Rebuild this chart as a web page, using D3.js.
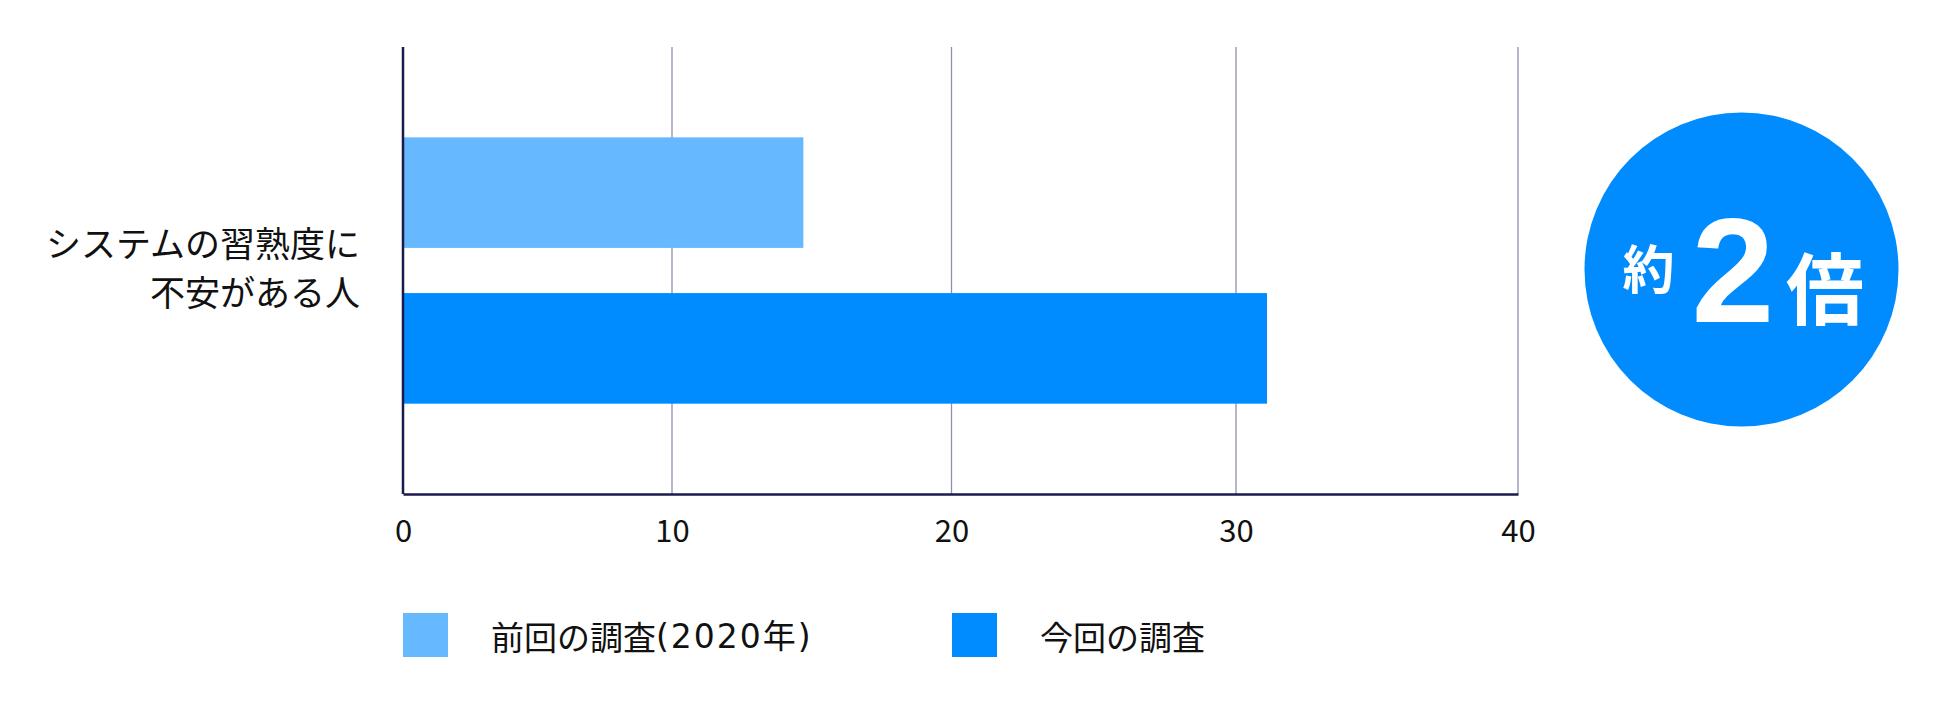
<!DOCTYPE html>
<html>
<head>
<meta charset="utf-8">
<script src="https://cdn.jsdelivr.net/npm/d3@7"></script>
<style>
  body { margin: 0; background: #fff; }
  text { font-family: "Noto Sans CJK JP", "Noto Sans", sans-serif; }
</style>
</head>
<body>
<div id="chart"></div>
<script>
var categoryLines = ["システムの習熟度に", "不安がある人"];
var seriesNames = ["前回の調査(2020年)", "今回の調査"];
var seriesKeys = ["prev", "now"];
var seriesValues = [14.7, 31.1];
var seriesColors = ["#66b9ff", "#008cff"];
var xTicks = [0, 10, 20, 30, 40];
var badgeText = ["約", "2", "倍"];

var wdth = 1950, hght = 707;
var plotTop = 47, plotBottom = 494;

var svg = d3.select("#chart")
  .append("svg")
    .attr("width", wdth)
    .attr("height", hght);

// grid in the picture is not evenly spaced, so use a piecewise scale
var x = d3.scaleLinear()
  .domain(xTicks)
  .range([403, 672, 951.5, 1236, 1518]);

var y = d3.scaleBand()
  .domain(seriesKeys)
  .range([plotTop, plotBottom])
  .paddingInner(0.29)
  .paddingOuter(0.58);

// grid lines
svg.append("g")
  .selectAll("line")
  .data(xTicks.slice(1))
  .enter()
  .append("line")
    .attr("x1", function(d){ return x(d) })
    .attr("x2", function(d){ return x(d) })
    .attr("y1", plotTop)
    .attr("y2", plotBottom)
    .attr("stroke", "#8e8eb0")
    .attr("stroke-width", 1.3);

// bars
svg.append("g")
  .selectAll("rect")
  .data(seriesValues)
  .enter()
  .append("rect")
    .attr("x", x(0))
    .attr("y", function(d,i){ return y(seriesKeys[i]) })
    .attr("width", function(d){ return x(d) - x(0) })
    .attr("height", y.bandwidth())
    .attr("fill", function(d,i){ return seriesColors[i] });

// axes
var xAxis = svg.append("g")
  .attr("transform", "translate(0," + plotBottom + ")")
  .call(d3.axisBottom(x).tickValues(xTicks).tickSize(0).tickPadding(26));
xAxis.select(".domain").attr("stroke", "#1b1a4d").attr("stroke-width", 2.5);
xAxis.selectAll("text")
  .style("font-family", "'Noto Sans CJK JP', sans-serif")
  .style("font-size", "31px")
  .attr("fill", "#111");

svg.append("line")
  .attr("x1", x(0))
  .attr("x2", x(0))
  .attr("y1", plotTop)
  .attr("y2", plotBottom)
  .attr("stroke", "#1b1a4d")
  .attr("stroke-width", 2.5);

// category label
svg.append("g")
  .selectAll("text")
  .data(categoryLines)
  .enter()
  .append("text")
    .attr("x", 360)
    .attr("y", function(d,i){ return 241.5 + i*49 })
    .attr("text-anchor", "end")
    .attr("dominant-baseline", "central")
    .style("font-size", "35px")
    .attr("fill", "#111")
    .text(function(d){ return d });

// legend
var legendX = [403, 952];
var legend = svg.append("g")
  .selectAll("g")
  .data(seriesNames)
  .enter()
  .append("g")
    .attr("transform", function(d,i){ return "translate(" + legendX[i] + ",613)" });

legend.append("rect")
  .attr("width", 45)
  .attr("height", 44)
  .attr("fill", function(d,i){ return seriesColors[i] });

var legendText = legend.append("text")
  .attr("x", 88)
  .attr("y", 23)
  .attr("dominant-baseline", "central")
  .style("font-size", "33px")
  .attr("fill", "#111");

// split off the bracket part so it can be spaced a little wider
legendText.each(function(d){
  var t = d3.select(this);
  var k = d.indexOf("(");
  if (k < 0) { t.text(d); return; }
  t.append("tspan").text(d.slice(0, k));
  t.append("tspan")
    .style("font-family", "'DejaVu Sans', 'Noto Sans CJK JP', sans-serif")
    .style("letter-spacing", "2px")
    .text(d.slice(k));
});

// badge
var badge = svg.append("g");
badge.append("circle")
  .attr("cx", 1741.5)
  .attr("cy", 269.5)
  .attr("r", 157)
  .attr("fill", "#008cff");

badge.append("text")
  .attr("x", 1648.5)
  .attr("y", 266)
  .attr("text-anchor", "middle")
  .attr("dominant-baseline", "central")
  .style("font-size", "52px")
  .style("font-weight", 700)
  .attr("fill", "#fff")
  .text(badgeText[0]);

badge.append("text")
  .attr("x", 1733)
  .attr("y", 322)
  .attr("text-anchor", "middle")
  .style("font-family", "'Liberation Sans', Arial, sans-serif")
  .style("font-size", "149px")
  .style("font-weight", 700)
  .attr("fill", "#fff")
  .text(badgeText[1]);

badge.append("text")
  .attr("x", 1825)
  .attr("y", 285)
  .attr("text-anchor", "middle")
  .attr("dominant-baseline", "central")
  .style("font-size", "78px")
  .style("font-weight", 700)
  .attr("fill", "#fff")
  .text(badgeText[2]);
</script>
</body>
</html>
